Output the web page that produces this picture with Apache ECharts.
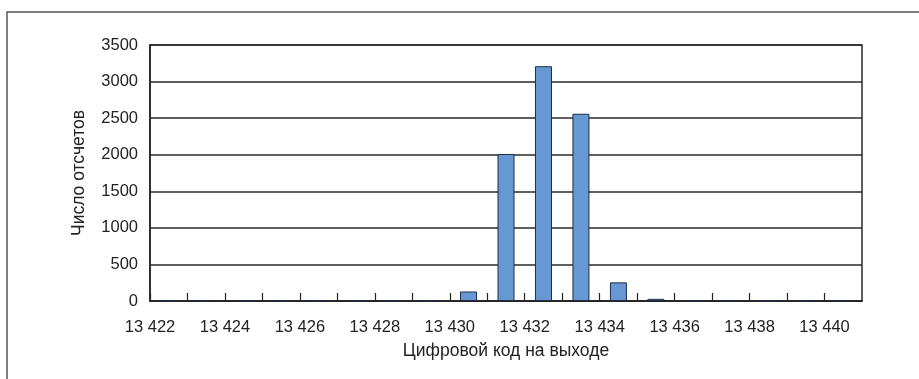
<!DOCTYPE html>
<html>
<head>
<meta charset="utf-8">
<script src="https://cdn.jsdelivr.net/npm/echarts@6/dist/echarts.min.js"></script>
<style>
  html, body { margin: 0; padding: 0; background: #fff; }
  #chart { width: 919px; height: 379px; }
</style>
</head>
<body>
<div id="chart"></div>
<script>
// Output code bins (each bin spans [code, code + 1))
const codes = [13422, 13423, 13424, 13425, 13426, 13427, 13428, 13429, 13430, 13431,
               13432, 13433, 13434, 13435, 13436, 13437, 13438, 13439, 13440];
// Number of samples per code
const counts = [0, 0, 0, 0, 0, 0, 0, 0, 130, 2010,
                3210, 2560, 255, 30, 0, 0, 0, 0, 0];
// Y-axis tick values
const yTicks = [0, 500, 1000, 1500, 2000, 2500, 3000, 3500];

const xTitle = 'Цифровой код на выходе';
const yTitle = 'Число отсчетов';

const font = '"Liberation Sans", Arial, sans-serif';

// Even codes get a label with a space as thousands separator
function fmtCode(v) {
  if (v % 2 !== 0) return '';
  const s = String(v);
  return s.slice(0, s.length - 3) + ' ' + s.slice(-3);
}

const chart = echarts.init(document.getElementById('chart'), null, { renderer: 'canvas' });

chart.setOption({
  animation: false,
  backgroundColor: '#ffffff',
  graphic: [{
    type: 'rect',
    shape: { x: 7, y: 12, width: 1000, height: 500 },
    style: { fill: 'none', stroke: '#555', lineWidth: 1.5 },
    silent: true
  }],
  grid: {
    left: 150, right: 57, top: 45, bottom: 78,
    show: true, borderColor: '#2a2a2a', borderWidth: 1.5,
    backgroundColor: 'transparent'
  },
  xAxis: {
    type: 'value',
    min: codes[0],
    max: codes[codes.length - 1] + 1,
    interval: 1,
    name: xTitle,
    nameLocation: 'middle',
    nameGap: 41,
    nameTextStyle: { fontFamily: font, fontSize: 17.5, color: '#222' },
    axisLine: { show: true, onZero: false, lineStyle: { color: '#222', width: 1.5 } },
    axisTick: { show: true, inside: true, length: 8, lineStyle: { color: '#222', width: 1.2 } },
    axisLabel: {
      fontFamily: font, fontSize: 16.5, color: '#222', margin: 18,
      showMaxLabel: false, showMinLabel: true,
      formatter: fmtCode
    },
    splitLine: { show: false }
  },
  yAxis: {
    type: 'value',
    min: yTicks[0],
    max: yTicks[yTicks.length - 1],
    interval: yTicks[1] - yTicks[0],
    name: yTitle,
    nameLocation: 'middle',
    nameGap: 62,
    nameTextStyle: { fontFamily: font, fontSize: 17.5, color: '#222' },
    axisLine: { show: true, lineStyle: { color: '#222', width: 1.5 } },
    axisTick: { show: false },
    axisLabel: {
      fontFamily: font, fontSize: 16.5, color: '#222', margin: 12,
      formatter: v => String(v)
    },
    splitLine: { show: true, lineStyle: { color: '#2a2a2a', width: 1.5 } }
  },
  series: [{
    type: 'bar',
    barWidth: 17,
    data: codes.map((c, i) => [c + 0.5, counts[i]]),
    itemStyle: { color: '#6699d3', borderColor: '#1e2d44', borderWidth: 1 }
  }]
});
</script>
</body>
</html>
